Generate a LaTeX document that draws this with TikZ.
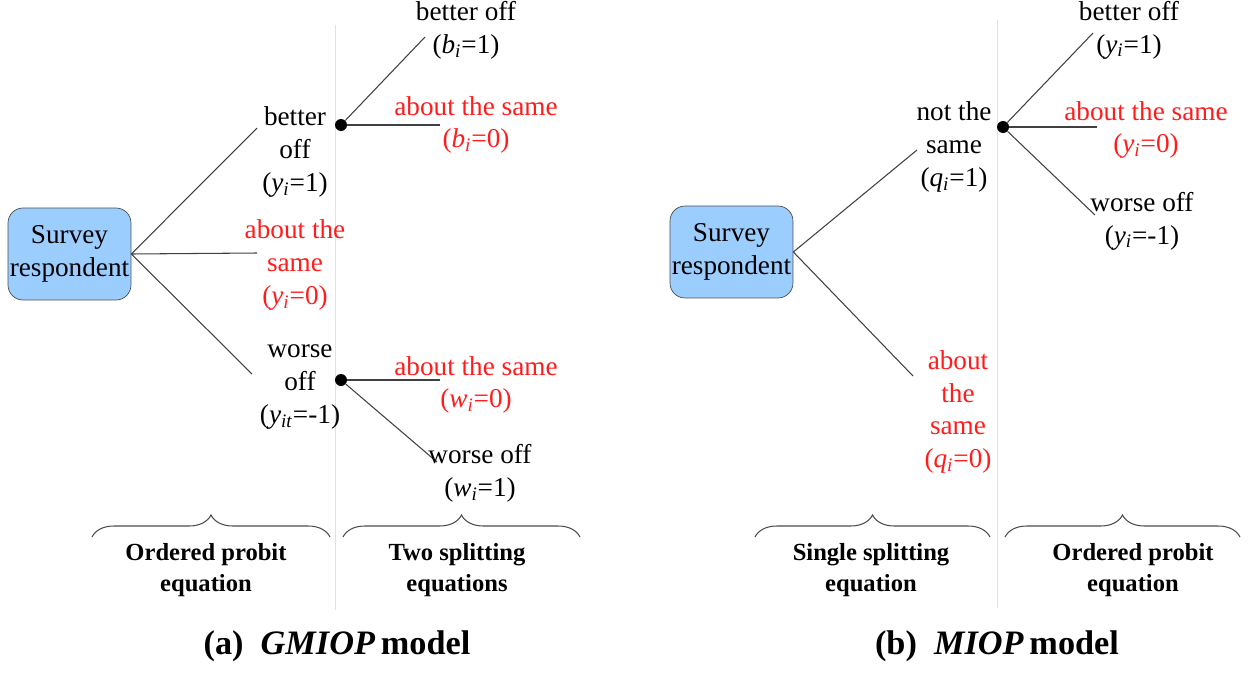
\documentclass[tikz,border=0pt]{standalone}
\usepackage{fontspec}
\setmainfont{Liberation Serif}
\usepackage{tikz}
\usetikzlibrary{decorations.pathreplacing}

\definecolor{boxblue}{RGB}{155,206,255}
\definecolor{ansred}{RGB}{255,28,28}
\definecolor{sepline}{RGB}{214,228,242}

\newcommand{\indvar}[2]{\textit{#1}\textsubscript{\textit{#2}}}

\begin{document}
\begin{tikzpicture}[x=0.02cm, y=-0.02cm,
  lbl/.style={align=center, font=\fontsize{15.5}{18.7}\selectfont, inner sep=0pt},
  redlbl/.style={lbl, text=ansred},
  eqlbl/.style={align=center, font=\fontsize{14}{17.6}\selectfont\bfseries, inner sep=0pt},
  respbox/.style={draw=black!70, fill=boxblue, rounded corners=0.3cm, minimum width=2.46cm,
    minimum height=1.84cm, align=center, font=\fontsize{15.5}{18.7}\selectfont, inner sep=0pt},
  splitdot/.style={circle, fill=black, inner sep=0pt, minimum size=0.24cm},
  branch/.style={black!75, line width=0.6pt},
  brc/.style={decorate, decoration={brace, amplitude=0.44cm}, black!70, line width=0.6pt}]

\useasboundingbox (0,0) rectangle (1255,673);

% separators
\draw[sepline, line width=0.5pt] (335,25) -- (335,610);
\draw[sepline, line width=0.5pt] (997,20) -- (997,608);

% (a) GMIOP
\node[respbox] (respA) at (69.5,254) {Survey\\respondent};

\coordinate (upA) at (257,128);
\coordinate (midA) at (257,253);
\coordinate (lowA) at (252,374);
\draw[branch] (respA.east) -- (upA);
\draw[branch] (respA.east) -- (midA);
\draw[branch] (respA.east) -- (lowA);

\node[lbl] (betterA) at (295,152) {better\\off\\(\indvar{y}{i}=1)};
\node[redlbl] (sameA) at (295,265) {about the\\same\\(\indvar{y}{i}=0)};
\node[lbl] (worseA) at (300,387) {worse\\off\\(\indvar{y}{it}=-1)};

\node[splitdot] (splitB) at (341,125) {};
\node[splitdot] (splitW) at (341,380) {};

\coordinate (bOne) at (425,37);
\coordinate (bZero) at (440,125);
\coordinate (wZero) at (440,380);
\coordinate (wOne) at (437,462);
\draw[branch] (splitB) -- (bOne);
\draw[branch] (splitB) -- (bZero);
\draw[branch] (splitW) -- (wZero);
\draw[branch] (splitW) -- (wOne);

\node[lbl] (bOneLbl) at (466,30) {better off\\(\indvar{b}{i}=1)};
\node[redlbl] (bZeroLbl) at (476,125) {about the same\\(\indvar{b}{i}=0)};
\node[redlbl] (wZeroLbl) at (476,385) {about the same\\(\indvar{w}{i}=0)};
\node[lbl] (wOneLbl) at (480,473) {worse off\\(\indvar{w}{i}=1)};

\draw[brc] (92,537) -- (330,537);
\draw[brc] (343,537) -- (580,537);
\node[eqlbl] (eqOrdA) at (206,570) {Ordered probit\\equation};
\node[eqlbl] (eqTwo) at (457,570) {Two splitting\\equations};

\node[font=\fontsize{19.5}{23}\selectfont\bfseries] (capA) at (337,646)
  {(a)\enspace\textit{GMIOP}\,model};

% (b) MIOP
\node[respbox] (respB) at (731.5,252) {Survey\\respondent};

\coordinate (upB) at (917,150);
\coordinate (lowB) at (913,376);
\draw[branch] (respB.east) -- (upB);
\draw[branch] (respB.east) -- (lowB);

\node[lbl] (notsameB) at (954,147) {not the\\same\\(\indvar{q}{i}=1)};
\node[redlbl] (sameB) at (958,412) {about\\the\\same\\(\indvar{q}{i}=0)};

\node[splitdot] (splitQ) at (1003,127) {};
\coordinate (yOne) at (1093,33);
\coordinate (yZero) at (1097,127);
\coordinate (yMinus) at (1095,215);
\draw[branch] (splitQ) -- (yOne);
\draw[branch] (splitQ) -- (yZero);
\draw[branch] (splitQ) -- (yMinus);

\node[lbl] (yOneLbl) at (1129,30) {better off\\(\indvar{y}{i}=1)};
\node[redlbl] (yZeroLbl) at (1146,130) {about the same\\(\indvar{y}{i}=0)};
\node[lbl] (yMinusLbl) at (1142,221) {worse off\\(\indvar{y}{i}=-1)};

\draw[brc] (755,537) -- (990,537);
\draw[brc] (1005,537) -- (1240,537);
\node[eqlbl] (eqSingle) at (871,570) {Single splitting\\equation};
\node[eqlbl] (eqOrdB) at (1133,570) {Ordered probit\\equation};

\node[font=\fontsize{19.5}{23}\selectfont\bfseries] (capB) at (997,646)
  {(b)\enspace\textit{MIOP}\,model};

\end{tikzpicture}
\end{document}
